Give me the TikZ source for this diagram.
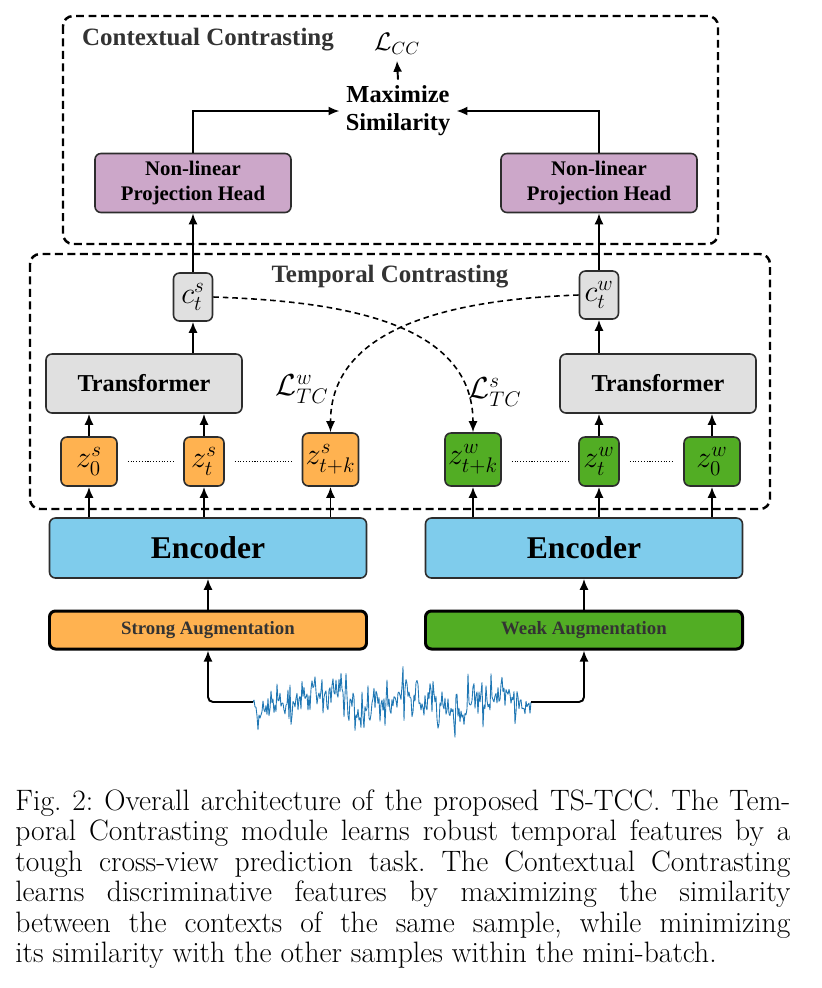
\documentclass[tikz,border=0pt]{standalone}
\usepackage{fontspec}
\usetikzlibrary{arrows.meta}
\newfontfamily\diagfont{Liberation Serif}
\definecolor{ink}{RGB}{51,51,51}
\definecolor{edge}{RGB}{45,45,45}
\definecolor{projfill}{RGB}{204,167,201}
\definecolor{ctxfill}{RGB}{224,224,224}
\definecolor{strongfill}{RGB}{255,178,80}
\definecolor{weakfill}{RGB}{82,173,36}
\definecolor{encfill}{RGB}{127,204,236}
\definecolor{signal}{RGB}{31,119,180}
\tikzset{
  tstcc/.style={
    x=0.2mm,y=-0.2mm,
    ar/.style={-{Latex[length=2.2mm,width=1.8mm]},draw=black,line width=1.1pt},
    tcar/.style={-{Latex[length=2.2mm,width=1.8mm]},draw=black,line width=0.9pt,
                 dash pattern=on 3.2pt off 2.2pt},
    gap/.style={draw=black,line width=0.6pt,densely dotted,shorten >=2mm,shorten <=2mm},
    frame/.style={draw=black,line width=1.4pt,dash pattern=on 4.5pt off 2.6pt,rounded corners=2mm},
    title/.style={font=\diagfont\bfseries\fontsize{14.2}{15}\selectfont,text=ink},
    wave/.style={draw=signal,line width=0.5pt,line join=round}},
  blk/.style={draw=edge,line width=0.9pt,rounded corners=1.2mm,fill=#1,inner sep=0pt,align=center},
  head/.style={blk=projfill,minimum width=39.2mm,minimum height=11.8mm,
               font=\diagfont\bfseries\fontsize{11.8}{14}\selectfont},
  ctx/.style={blk=ctxfill,minimum width=7.8mm,minimum height=9.6mm,font=\fontsize{17}{18}\selectfont},
  trans/.style={blk=ctxfill,minimum width=39.2mm,minimum height=11.8mm,
                font=\diagfont\bfseries\fontsize{13.8}{15}\selectfont},
  zbox/.style={blk=#1,minimum width=11.2mm,minimum height=9.8mm,font=\fontsize{17.5}{19}\selectfont},
  enc/.style={blk=encfill,minimum width=63.4mm,minimum height=12mm,
              font=\diagfont\bfseries\fontsize{18}{20}\selectfont},
  aug/.style={blk=#1,draw=black,line width=1.7pt,minimum width=63.4mm,minimum height=7.6mm,
              font=\diagfont\bfseries\fontsize{10.7}{12}\selectfont,text=ink},
}

\begin{document}
\begin{tikzpicture}[tstcc]
    \useasboundingbox (0,0) rectangle (822,988);
    % contextual contrasting
    \draw[frame] (63,16) rectangle (718,244);
    \node[title] (cctitle) at (208,40) {Contextual Contrasting};
    \node[font=\fontsize{14}{16}\selectfont] (lcc) at (397,44) {$\mathcal{L}_{CC}$};
    \node[title,text=black,align=center,font=\diagfont\bfseries\fontsize{13.9}{16}\selectfont]
      (max) at (398,111) {Maximize\\Similarity};
    \node[head] (projl) at (193,183) {Non-linear\\Projection Head};
    \node[head] (projr) at (599,183) {Non-linear\\Projection Head};
    \draw[ar] (max.north) -- (lcc.south);
    \draw[ar] (projl.north) |- (max.west);
    \draw[ar] (projr.north) |- (max.east);
    % temporal contrasting
    \draw[frame] (30,254) rectangle (770,509);
    \node[title] (tctitle) at (390,277) {Temporal Contrasting};
    \node[ctx] (cs) at (193,297) {$c_t^s$};
    \node[ctx] (cw) at (599,295) {$c_t^w$};
    \node[trans] (trl) at (144,383.5) {Transformer};
    \node[trans] (trr) at (658,383.5) {Transformer};
    \node[zbox=strongfill] (z0s) at (89,461.5) {$z_0^s$};
    \node[zbox=strongfill,minimum width=8mm] (zts) at (204,461.5) {$z_t^s$};
    \node[zbox=strongfill,minimum height=10.6mm] (zks) at (330.5,459.5) {$z_{t+k}^s$};
    \node[zbox=weakfill,minimum height=10.6mm] (zkw) at (473,459.5) {$z_{t+k}^w$};
    \node[zbox=weakfill,minimum width=8mm] (ztw) at (599,461.5) {$z_t^w$};
    \node[zbox=weakfill] (z0w) at (712,461.5) {$z_0^w$};
    \draw[ar] (cs.north) -- (projl.south);
    \draw[ar] (cw.north) -- (projr.south);
    \draw[ar] (cs |- trl.north) -- (cs.south);
    \draw[ar] (cw |- trr.north) -- (cw.south);
    \draw[ar] (z0s.north) -- (z0s |- trl.south);
    \draw[ar] (zts.north) -- (zts |- trl.south);
    \draw[ar] (ztw.north) -- (ztw |- trr.south);
    \draw[ar] (z0w.north) -- (z0w |- trr.south);
    \draw[gap] (z0s.east) -- (zts.west);
    \draw[gap] (zts.east) -- (zts.east -| zks.west);
    \draw[gap] (zkw.east |- ztw.west) -- (ztw.west);
    \draw[gap] (ztw.east) -- (z0w.west);
    \draw[tcar] (cs.east) to[out=-2,in=90] (zkw.north);
    \draw[tcar] (cw.west) to[out=182,in=90] (zks.north);
    \node[font=\fontsize{18}{20}\selectfont] (ltcw) at (302,389) {$\mathcal{L}_{TC}^w$};
    \node[font=\fontsize{18}{20}\selectfont] (ltcs) at (495,392) {$\mathcal{L}_{TC}^s$};
    % encoders and augmentations
    \node[enc] (encl) at (208,548) {Encoder};
    \node[enc] (encr) at (584,548) {Encoder};
    \node[aug=strongfill] (augl) at (208,630) {Strong Augmentation};
    \node[aug=weakfill] (augr) at (584,630) {Weak Augmentation};
    \foreach \z in {z0s,zts,zks}
      \draw[ar] (\z |- encl.north) -- (\z.south);
    \foreach \z in {zkw,ztw,z0w}
      \draw[ar] (\z |- encr.north) -- (\z.south);
    \draw[ar] (augl) -- (encl);
    \draw[ar] (augr) -- (encr);
    % raw signal
    \coordinate (wl) at (253,702);
    \coordinate (wr) at (531,702);
    \pgfmathsetseed{42}
    \draw[wave] (wl) \foreach \i [evaluate=\i as \r using rand,
      evaluate=\i as \dy using {7*sin(4*\i)+5*sin(11*\i+20)+9*rand+22*\r*\r*\r}] in {1,...,277}
      { -- (253+\i,702+\dy) } -- (wr);
    \draw[ar,rounded corners=1mm] (wl) -| (augl.south);
    \draw[ar,rounded corners=1mm] (wr) -| (augr.south);
    % caption
    \node[anchor=north west,inner sep=0pt,text width=155mm,align=justify,
          font=\fontsize{16.8}{17.4}\selectfont\frenchspacing] (caption) at (15,789)
      {Fig.~2: Overall architecture of the proposed TS-TCC. The Tem-\linebreak
       poral Contrasting module learns robust temporal features by a\linebreak
       tough cross-view prediction task. The Contextual Contrasting\linebreak
       learns discriminative features by maximizing the similarity\linebreak
       between the contexts of the same sample, while minimizing\linebreak
       its similarity with the other samples within the mini-batch.};
\end{tikzpicture}
\end{document}
